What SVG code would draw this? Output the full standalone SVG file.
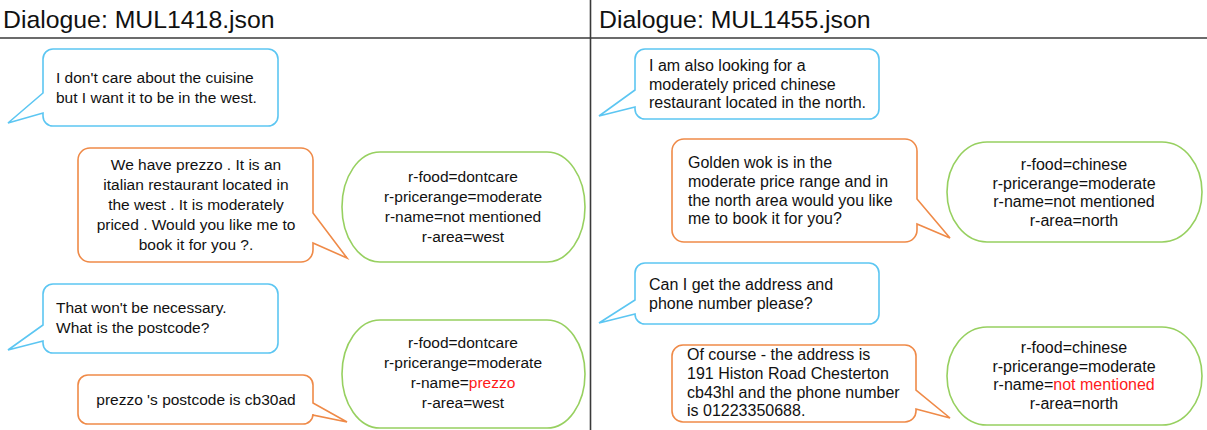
<svg xmlns="http://www.w3.org/2000/svg" width="1207" height="430" viewBox="0 0 1207 430">
<style>
.bg{fill:#ffffff}
.rule{stroke:#3a3a3a;stroke-width:1.6;fill:none}
.title{font-family:"Liberation Sans",Arial,sans-serif;font-size:24.8px;fill:#111}
.user{fill:#fff;stroke:#5cc6f2;stroke-width:1.6}
.sys{fill:#fff;stroke:#ef8a48;stroke-width:1.6}
.state{fill:#fff;stroke:#97d060;stroke-width:1.6}
.tl{font-family:"Liberation Sans",Arial,sans-serif;font-size:15.5px;fill:#111}
.tr{font-family:"Liberation Sans",Arial,sans-serif;font-size:16px;fill:#111}
.c{text-anchor:middle}
.red{fill:#ff1a1a}
</style>
<rect class="bg" x="0" y="0" width="1207" height="430"/>
<g id="frame">
<line class="rule" x1="0" y1="38" x2="1207" y2="38"/>
<line class="rule" x1="590.5" y1="0" x2="590.5" y2="430"/>
<text class="title" x="3" y="28">Dialogue: MUL1418.json</text>
<text class="title" x="599" y="28">Dialogue: MUL1455.json</text>
</g>
<g id="connectors"></g>

<g id="left-user-1">
<path class="user" d="M53,49 H268 A10,10 0 0 1 278,59 V116 A10,10 0 0 1 268,126 H53 A10,10 0 0 1 43,116 V113 L8,123 L43,93 V59 A10,10 0 0 1 53,49 Z"/>
<text class="tl" x="56" y="83">I don't care about the cuisine</text>
<text class="tl" x="56" y="103">but I want it to be in the west.</text>
</g>
<g id="left-sys-1">
<path class="sys" d="M90,148 H301 A12,12 0 0 1 313,160 V213 L347,258 L313,243 V250 A12,12 0 0 1 301,262 H90 A12,12 0 0 1 78,250 V160 A12,12 0 0 1 90,148 Z"/>
<text class="tl c" x="196" y="170">We have prezzo . It is an</text>
<text class="tl c" x="196" y="190">italian restaurant located in</text>
<text class="tl c" x="196" y="210">the west . It is moderately</text>
<text class="tl c" x="196" y="230">priced . Would you like me to</text>
<text class="tl c" x="196" y="250">book it for you ?.</text>
</g>
<g id="left-state-1">
<rect class="state" x="342" y="152" width="243" height="110" rx="38" ry="55"/>
<text class="tl c" x="463" y="182">r-food=dontcare</text>
<text class="tl c" x="463" y="202">r-pricerange=moderate</text>
<text class="tl c" x="463" y="222">r-name=not mentioned</text>
<text class="tl c" x="463" y="242">r-area=west</text>
</g>
<g id="left-user-2">
<path class="user" d="M53,284 H268 A10,10 0 0 1 278,294 V343 A10,10 0 0 1 268,353 H53 A10,10 0 0 1 43,343 V341 L8,350 L43,325 V294 A10,10 0 0 1 53,284 Z"/>
<text class="tl" x="56" y="313">That won't be necessary.</text>
<text class="tl" x="56" y="333">What is the postcode?</text>
</g>
<g id="left-sys-2">
<path class="sys" d="M88,375 H303 A10,10 0 0 1 313,385 V403 L347,422 L313,415 V414 A10,10 0 0 1 303,424 H88 A10,10 0 0 1 78,414 V385 A10,10 0 0 1 88,375 Z"/>
<text class="tl c" x="196" y="405">prezzo 's postcode is cb30ad</text>
</g>
<g id="left-state-2">
<rect class="state" x="342" y="320" width="243" height="108" rx="38" ry="54"/>
<text class="tl c" x="463" y="348">r-food=dontcare</text>
<text class="tl c" x="463" y="368">r-pricerange=moderate</text>
<text class="tl c" x="463" y="388">r-name=<tspan class="red">prezzo</tspan></text>
<text class="tl c" x="463" y="408">r-area=west</text>
</g>

<g id="right-user-1">
<path class="user" d="M645,49 H869 A10,10 0 0 1 879,59 V109 A10,10 0 0 1 869,119 H645 A10,10 0 0 1 635,109 V107 L599,116 L635,90 V59 A10,10 0 0 1 645,49 Z"/>
<text class="tr" x="649" y="71">I am also looking for a</text>
<text class="tr" x="649" y="89.5">moderately priced chinese</text>
<text class="tr" x="649" y="108">restaurant located in the north.</text>
</g>
<g id="right-sys-1">
<path class="sys" d="M684,139 H905 A12,12 0 0 1 917,151 V199 L950,238 L917,224 V230 A12,12 0 0 1 905,242 H684 A12,12 0 0 1 672,230 V151 A12,12 0 0 1 684,139 Z"/>
<text class="tr" x="688" y="168">Golden wok is in the</text>
<text class="tr" x="688" y="187">moderate price range and in</text>
<text class="tr" x="688" y="205.5">the north area would you like</text>
<text class="tr" x="688" y="224">me to book it for you?</text>
</g>
<g id="right-state-1">
<rect class="state" x="947" y="142" width="255" height="100" rx="40" ry="50"/>
<text class="tr c" x="1074" y="170">r-food=chinese</text>
<text class="tr c" x="1074" y="188.5">r-pricerange=moderate</text>
<text class="tr c" x="1074" y="207">r-name=not mentioned</text>
<text class="tr c" x="1074" y="225.5">r-area=north</text>
</g>
<g id="right-user-2">
<path class="user" d="M645,263 H869 A10,10 0 0 1 879,273 V314 A10,10 0 0 1 869,324 H645 A10,10 0 0 1 635,314 L599,323 L635,300 V273 A10,10 0 0 1 645,263 Z"/>
<text class="tr" x="649" y="290">Can I get the address and</text>
<text class="tr" x="649" y="308.5">phone number please?</text>
</g>
<g id="right-sys-2">
<path class="sys" d="M683,345 H905 A11,11 0 0 1 916,356 V390 L950,418 L916,409 V411 A11,11 0 0 1 905,422 H683 A11,11 0 0 1 672,411 V356 A11,11 0 0 1 683,345 Z"/>
<text class="tr" x="687" y="360">Of course - the address is</text>
<text class="tr" x="687" y="379">191 Histon Road Chesterton</text>
<text class="tr" x="687" y="397.5">cb43hl and the phone number</text>
<text class="tr" x="687" y="416">is 01223350688.</text>
</g>
<g id="right-state-2">
<rect class="state" x="947" y="327" width="255" height="98" rx="40" ry="49"/>
<text class="tr c" x="1074" y="353">r-food=chinese</text>
<text class="tr c" x="1074" y="371.5">r-pricerange=moderate</text>
<text class="tr c" x="1074" y="390">r-name=<tspan class="red">not mentioned</tspan></text>
<text class="tr c" x="1074" y="408.5">r-area=north</text>
</g>
</svg>
